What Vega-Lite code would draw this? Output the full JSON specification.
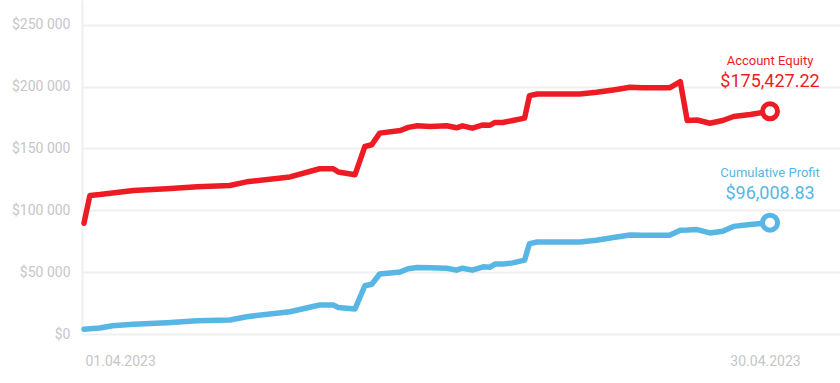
{
  "$schema": "https://vega.github.io/schema/vega-lite/v6.json",
  "width": 758,
  "height": 334,
  "autosize": "none",
  "padding": {"left": 82, "top": 0, "right": 0, "bottom": 49},
  "background": "white",
  "config": {"view": {"stroke": null}, "font": "Roboto"},
  "datasets": {
    "series": [
      {"date": "2023-04-01T00:00", "equity": 89500, "profit": 3800},
      {"date": "2023-04-01T06:00", "equity": 112000, "profit": 4300},
      {"date": "2023-04-01T16:00", "equity": 112700, "profit": 4800},
      {"date": "2023-04-02T05:00", "equity": 114000, "profit": 6700},
      {"date": "2023-04-03T02:00", "equity": 116000, "profit": 7800},
      {"date": "2023-04-04T12:00", "equity": 117500, "profit": 9100},
      {"date": "2023-04-05T19:00", "equity": 119000, "profit": 10700},
      {"date": "2023-04-07T04:00", "equity": 120000, "profit": 11300},
      {"date": "2023-04-07T21:00", "equity": 123000, "profit": 14000},
      {"date": "2023-04-09T17:00", "equity": 127000, "profit": 18000},
      {"date": "2023-04-10T23:00", "equity": 133600, "profit": 23400},
      {"date": "2023-04-11T13:00", "equity": 133600, "profit": 23400},
      {"date": "2023-04-11T18:00", "equity": 131000, "profit": 21500},
      {"date": "2023-04-12T11:00", "equity": 128800, "profit": 20300},
      {"date": "2023-04-12T21:00", "equity": 151600, "profit": 39000},
      {"date": "2023-04-13T04:00", "equity": 153000, "profit": 40200},
      {"date": "2023-04-13T12:00", "equity": 162400, "profit": 48500},
      {"date": "2023-04-14T09:00", "equity": 164500, "profit": 50200},
      {"date": "2023-04-14T17:00", "equity": 167000, "profit": 52700},
      {"date": "2023-04-15T02:00", "equity": 168300, "profit": 53800},
      {"date": "2023-04-15T15:00", "equity": 167700, "profit": 53500},
      {"date": "2023-04-16T08:00", "equity": 168300, "profit": 53200},
      {"date": "2023-04-16T18:00", "equity": 166700, "profit": 51600},
      {"date": "2023-04-17T00:00", "equity": 168300, "profit": 53200},
      {"date": "2023-04-17T10:00", "equity": 166400, "profit": 51600},
      {"date": "2023-04-17T21:00", "equity": 169000, "profit": 54300},
      {"date": "2023-04-18T04:00", "equity": 168800, "profit": 54000},
      {"date": "2023-04-18T09:00", "equity": 171000, "profit": 56500},
      {"date": "2023-04-18T17:00", "equity": 171000, "profit": 56500},
      {"date": "2023-04-19T03:00", "equity": 172600, "profit": 57500},
      {"date": "2023-04-19T15:00", "equity": 174500, "profit": 59700},
      {"date": "2023-04-19T20:00", "equity": 192700, "profit": 73100},
      {"date": "2023-04-20T04:00", "equity": 194000, "profit": 74400},
      {"date": "2023-04-21T23:00", "equity": 194000, "profit": 74400},
      {"date": "2023-04-22T16:00", "equity": 195400, "profit": 75800},
      {"date": "2023-04-23T09:00", "equity": 197300, "profit": 78000},
      {"date": "2023-04-24T02:00", "equity": 199500, "profit": 80000},
      {"date": "2023-04-24T15:00", "equity": 199000, "profit": 79800},
      {"date": "2023-04-25T18:00", "equity": 199000, "profit": 79800},
      {"date": "2023-04-26T05:00", "equity": 204000, "profit": 83900},
      {"date": "2023-04-26T12:00", "equity": 172600, "profit": 84000},
      {"date": "2023-04-26T22:00", "equity": 173000, "profit": 84400},
      {"date": "2023-04-27T11:00", "equity": 170400, "profit": 81700},
      {"date": "2023-04-28T00:00", "equity": 172600, "profit": 83000},
      {"date": "2023-04-28T11:00", "equity": 175800, "profit": 87000},
      {"date": "2023-04-29T04:00", "equity": 177400, "profit": 88500},
      {"date": "2023-04-30T00:00", "equity": 180000, "profit": 90000}
    ],
    "ends": [
      {"date": "2023-04-30T00:00", "series": "Account Equity", "value": 180000, "amount": "$175,427.22"},
      {"date": "2023-04-30T00:00", "series": "Cumulative Profit", "value": 90000, "amount": "$96,008.83"}
    ]
  },
  "encoding": {
    "x": {
      "field": "date",
      "type": "temporal",
      "scale": {
        "domain": [
          {"year": 2023, "month": 3, "date": 31, "hours": 22},
          {"year": 2023, "month": 5, "date": 2, "hours": 23}
        ]
      },
      "axis": {
        "title": null,
        "values": [
          {"year": 2023, "month": 4, "date": 1},
          {"year": 2023, "month": 4, "date": 30}
        ],
        "format": "%d.%m.%Y",
        "grid": false,
        "domain": false,
        "ticks": false,
        "labelFlush": false,
        "labelPadding": 20,
        "labelFontSize": 14,
        "labelColor": "#c6c6c6",
        "labelAlign": {"condition": {"test": "datum.index < 0.5", "value": "left"}, "value": "center"},
        "labelOffset": {"condition": {"test": "datum.index < 0.5", "value": 1}, "value": -5}
      }
    },
    "y": {
      "field": "value",
      "type": "quantitative",
      "scale": {"domain": [0, 270000], "nice": false},
      "axis": {
        "title": null,
        "values": [0, 50000, 100000, 150000, 200000, 250000],
        "labelExpr": "'$' + (datum.value == 0 ? '0' : format(datum.value / 1000, 'd') + ' 000')",
        "grid": true,
        "gridColor": "#efefef",
        "gridWidth": 2,
        "domain": true,
        "domainColor": "#efefef",
        "domainWidth": 2,
        "ticks": false,
        "labelPadding": 12,
        "labelFontSize": 14,
        "labelColor": "#c6c6c6"
      }
    },
    "color": {
      "field": "series",
      "type": "nominal",
      "scale": {"domain": ["Account Equity", "Cumulative Profit"], "range": ["#ED1C24", "#58B6E4"]},
      "legend": null
    }
  },
  "layer": [
    {
      "data": {"name": "series"},
      "transform": [
        {"fold": ["equity", "profit"], "as": ["key", "value"]},
        {"lookup": "key", "from": {"data": {"values": [{"key": "equity", "series": "Account Equity"}, {"key": "profit", "series": "Cumulative Profit"}]}, "key": "key", "fields": ["series"]}}
      ],
      "mark": {"type": "line", "strokeWidth": 5.5, "strokeCap": "round", "strokeJoin": "round"}
    },
    {
      "data": {"name": "ends"},
      "mark": {"type": "point", "shape": "circle", "filled": false, "fill": "white", "fillOpacity": 1, "strokeWidth": 5, "size": 225, "opacity": 1}
    },
    {
      "data": {"name": "ends"},
      "mark": {"type": "text", "align": "center", "baseline": "alphabetic", "dy": -46, "fontSize": 13},
      "encoding": {"text": {"field": "series"}}
    },
    {
      "data": {"name": "ends"},
      "mark": {"type": "text", "align": "center", "baseline": "alphabetic", "dy": -24, "fontSize": 18},
      "encoding": {"text": {"field": "amount"}}
    }
  ]
}
